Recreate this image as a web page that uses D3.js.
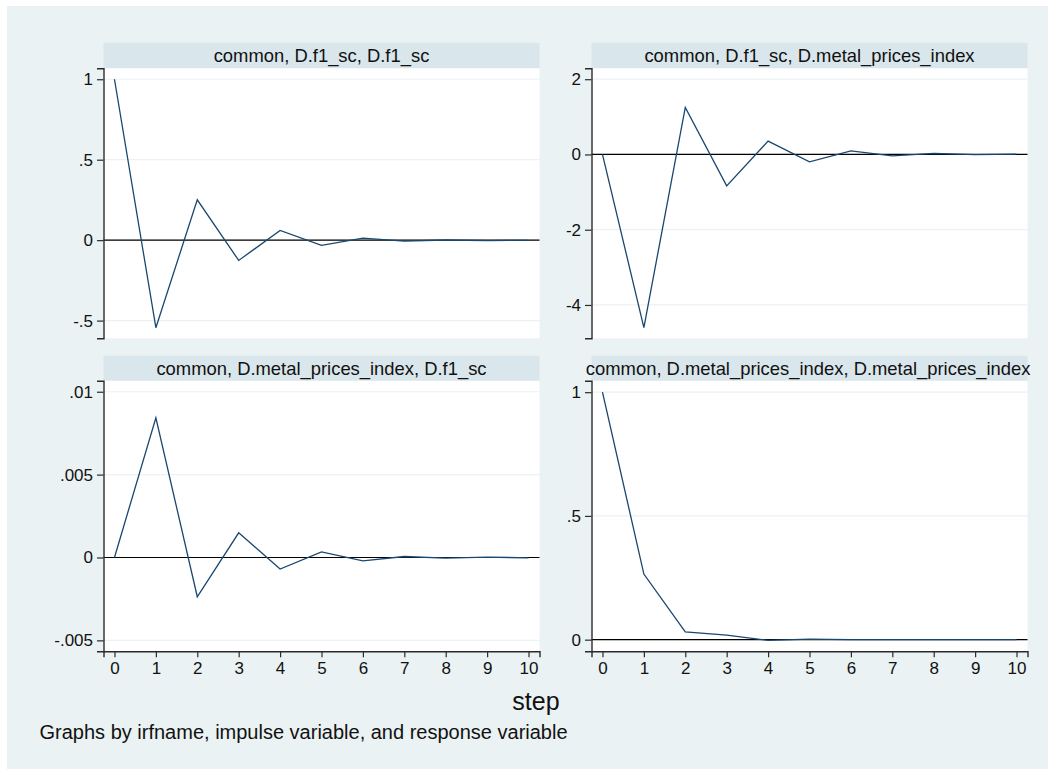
<!DOCTYPE html>
<html>
<head>
<meta charset="utf-8">
<script src="https://cdn.jsdelivr.net/npm/d3@7"></script>
<style>
  body { margin: 0; background: #fff; }
  svg { display: block; font-family: "Liberation Sans", Arial, sans-serif; }
</style>
</head>
<body>
<div id="chart"></div>
<script>
// irf step axis
var steps = [0, 1, 2, 3, 4, 5, 6, 7, 8, 9, 10];
var xTickLabels = ["0", "1", "2", "3", "4", "5", "6", "7", "8", "9", "10"];

// panel titles (irfname, impulse, response)
var panelTitles = [
  "common, D.f1_sc, D.f1_sc",
  "common, D.f1_sc, D.metal_prices_index",
  "common, D.metal_prices_index, D.f1_sc",
  "common, D.metal_prices_index, D.metal_prices_index"
];

// responses
var irfF1F1 = [1, -0.544, 0.251, -0.126, 0.060, -0.032, 0.013, -0.006, 0.001, -0.003, -0.001];
var irfF1Metal = [0, -4.60, 1.25, -0.835, 0.354, -0.197, 0.096, -0.040, 0.027, -0.005, 0.010];
var irfMetalF1 = [0, 0.00843, -0.00237, 0.00149, -0.00070, 0.00034, -0.00020, 0.00006, -0.00004, 0.00002, -0.00002];
var irfMetalMetal = [1, 0.265, 0.031, 0.018, -0.003, 0.002, 0.000, 0.000, 0.000, 0.000, 0.000];

// y ticks for each panel
var yTicks1 = [-0.5, 0, 0.5, 1];
var yTickLabels1 = ["-.5", "0", ".5", "1"];
var yTicks2 = [-4, -2, 0, 2];
var yTickLabels2 = ["-4", "-2", "0", "2"];
var yTicks3 = [-0.005, 0, 0.005, 0.01];
var yTickLabels3 = ["-.005", "0", ".005", ".01"];
var yTicks4 = [0, 0.5, 1];
var yTickLabels4 = ["0", ".5", "1"];

var W = 1048, H = 769;
var navy = "#1a476f";
var bgCol = "#eaf2f3";
var stripCol = "#d9e6eb";
var axisCol = "#2b2b2b";

var svg = d3.select("#chart").append("svg")
  .attr("width", W)
  .attr("height", H);

svg.append("rect")
  .attr("x", 7).attr("y", 6)
  .attr("width", W - 7).attr("height", H - 6)
  .attr("fill", bgCol);

var cols = [[103.5, 539.5], [591.5, 1027.5]];
var rows = [
  { strip: 42.7, top: 68.3, bottom: 338.3 },
  { strip: 355.8, top: 380.8, bottom: 651.3 }
];

var panels = [
  { values: irfF1F1, ticks: yTicks1, labels: yTickLabels1, dom: [-0.61, 1.068], col: 0, row: 0 },
  { values: irfF1Metal, ticks: yTicks2, labels: yTickLabels2, dom: [-4.886, 2.29], col: 1, row: 0 },
  { values: irfMetalF1, ticks: yTicks3, labels: yTickLabels3, dom: [-0.00566, 0.01066], col: 0, row: 1 },
  { values: irfMetalMetal, ticks: yTicks4, labels: yTickLabels4, dom: [-0.047, 1.046], col: 1, row: 1 }
];

panels.forEach(function(p, i) {
  var x0 = cols[p.col][0], x1 = cols[p.col][1];
  var r = rows[p.row];

  var x = d3.scaleLinear().domain([-0.265, 10.265]).range([x0, x1]);
  var y = d3.scaleLinear().domain(p.dom).range([r.bottom, r.top]);

  var g = svg.append("g");

  // title strip
  g.append("rect")
    .attr("x", x0).attr("y", r.strip)
    .attr("width", x1 - x0).attr("height", r.top - r.strip)
    .attr("fill", stripCol);

  var title = g.append("text")
    .attr("x", (x0 + x1) / 2)
    .attr("y", (r.strip + r.top) / 2 + 6.5)
    .attr("text-anchor", "middle")
    .style("font-size", "18.4px")
    .attr("fill", "#111")
    .text(panelTitles[i]);
  // long titles get pushed left like stata does
  var tw = title.node().getComputedTextLength();
  if (tw > x1 - x0) {
    title.attr("text-anchor", "start").attr("x", x1 + 3 - tw);
  }

  // plot region
  g.append("rect")
    .attr("x", x0).attr("y", r.top)
    .attr("width", x1 - x0).attr("height", r.bottom - r.top)
    .attr("fill", "#fff");

  // grid lines
  g.selectAll(".grid")
    .data(p.ticks)
    .enter()
    .append("line")
    .attr("x1", x0).attr("x2", x1)
    .attr("y1", function(d) { return y(d); })
    .attr("y2", function(d) { return y(d); })
    .attr("stroke", bgCol)
    .attr("stroke-width", 1.2);

  // zero line
  g.append("line")
    .attr("x1", x0).attr("x2", x1)
    .attr("y1", y(0)).attr("y2", y(0))
    .attr("stroke", "#000")
    .attr("stroke-width", 1.2);

  // irf line
  var line = d3.line()
    .x(function(d, j) { return x(steps[j]); })
    .y(function(d) { return y(d); });

  g.append("path")
    .datum(p.values)
    .attr("d", line)
    .attr("fill", "none")
    .attr("stroke", navy)
    .attr("stroke-width", 1.3);

  // y axis
  var yAxis = g.append("g")
    .attr("transform", "translate(" + x0 + ",0)")
    .call(d3.axisLeft(y)
      .tickValues(p.ticks)
      .tickFormat(function(d, j) { return p.labels[j]; })
      .tickSizeOuter(0)
      .tickSize(6.5)
      .tickPadding(4));
  yAxis.select(".domain").attr("stroke", axisCol).attr("stroke-width", 1.4);
  yAxis.selectAll(".tick line").attr("stroke", axisCol).attr("stroke-width", 1.2);
  yAxis.selectAll(".tick text")
    .style("font-size", "17px")
    .style("font-family", "'Liberation Sans', Arial, sans-serif")
    .attr("fill", "#111");

  // x axis only on the bottom row
  if (p.row === 1) {
    var xAxis = g.append("g")
      .attr("transform", "translate(0," + r.bottom + ")")
      .call(d3.axisBottom(x)
        .tickValues(steps)
        .tickFormat(function(d, j) { return xTickLabels[j]; })
        .tickSizeOuter(0)
        .tickSize(6)
        .tickPadding(5));
    xAxis.select(".domain").attr("stroke", axisCol).attr("stroke-width", 1.4);
    xAxis.selectAll(".tick line").attr("stroke", axisCol).attr("stroke-width", 1.2);
    xAxis.selectAll(".tick text")
      .style("font-size", "17px")
      .style("font-family", "'Liberation Sans', Arial, sans-serif")
      .attr("fill", "#111");
  }
});

// axis title
svg.append("text")
  .attr("x", 536)
  .attr("y", 710)
  .attr("text-anchor", "middle")
  .style("font-size", "25px")
  .attr("fill", "#111")
  .text("step");

// note
svg.append("text")
  .attr("x", 39.5)
  .attr("y", 739)
  .style("font-size", "20px")
  .attr("fill", "#111")
  .text("Graphs by irfname, impulse variable, and response variable");
</script>
</body>
</html>
